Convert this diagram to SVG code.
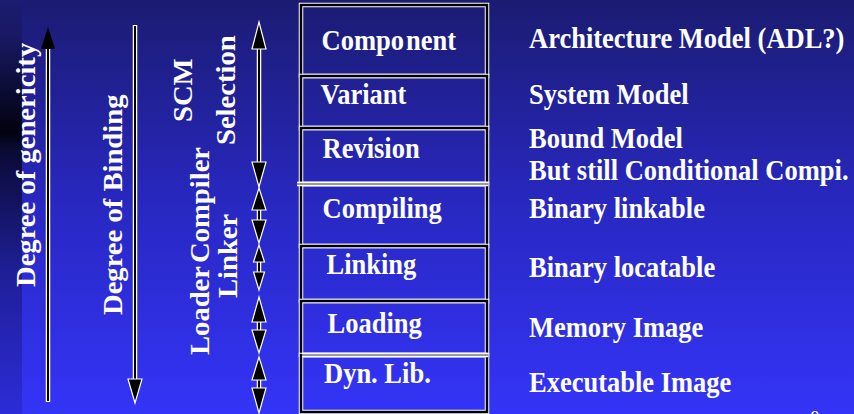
<svg xmlns="http://www.w3.org/2000/svg" width="854" height="414" viewBox="0 0 854 414">
<defs>
<linearGradient id="bg" x1="0" y1="0" x2="0" y2="1">
<stop offset="0" stop-color="#1b1b72"/>
<stop offset="0.5" stop-color="#2828c2"/>
<stop offset="1" stop-color="#3434f8"/>
</linearGradient>
<linearGradient id="strip" x1="0" y1="0" x2="0" y2="1">
<stop offset="0" stop-color="#1c1c70"/>
<stop offset="0.08" stop-color="#191966"/>
<stop offset="0.32" stop-color="#020210"/>
<stop offset="0.36" stop-color="#0a0a34"/>
<stop offset="0.65" stop-color="#1e1e96"/>
<stop offset="1" stop-color="#2c2cd8"/>
</linearGradient>
<style>
.t{font-family:"Liberation Serif","Times New Roman",serif;font-weight:bold;font-size:26.5px;fill:#fff}
.bw{fill:none;stroke:#fff;stroke-width:4.5}
.bk{fill:none;stroke:#000;stroke-width:2.5}
.sw{stroke:#fff;stroke-width:4.5;fill:none}
.sk{stroke:#000;stroke-width:2;fill:none}
.sepw{stroke:#fff;stroke-width:4.5}
.sepg{stroke:#9a9a9a;stroke-width:2}
.head{fill:#000;stroke:#fff;stroke-width:1.2;stroke-linejoin:miter}
.headb{fill:#000}
</style>
</defs>
<rect x="0" y="0" width="854" height="414" fill="url(#bg)"/>
<rect x="0" y="0" width="22" height="414" fill="url(#strip)"/>

<g id="labels">
<text class="t" transform="translate(34.5 287) scale(1 1.08) rotate(-90)">Degree of genericity</text>
<text class="t" transform="translate(121.5 315) scale(1 1.08) rotate(-90)">Degree of Binding</text>
<text class="t" transform="translate(191.5 122) scale(1 1.08) rotate(-90)">SCM</text>
<text class="t" transform="translate(235 145) scale(1 1.08) rotate(-90)">Selection</text>
<text class="t" transform="translate(209 355) scale(1 1.08) rotate(-90)">Loader</text>
<text class="t" transform="translate(209 263) scale(1 1.08) rotate(-90)">Compiler</text>
<text class="t" transform="translate(237 298) scale(1 1.08) rotate(-90)">Linker</text>
</g>

<g id="connectors">
<line class="sw" x1="48" y1="402" x2="48" y2="49"/>
<line class="sk" x1="48" y1="401" x2="48" y2="49"/>
<polygon class="headb" points="48,27 41,49 55,49"/>

<line class="sw" x1="135" y1="25" x2="135" y2="380"/>
<line class="sk" x1="135" y1="26" x2="135" y2="380"/>
<polygon class="head" points="135,403 128,379 142,379"/>

<line class="sw" x1="259" y1="49" x2="259" y2="162"/>
<line class="sk" x1="259" y1="49" x2="259" y2="162"/>
<polygon class="head" points="259,22 252,49 266,49"/>
<polygon class="head" points="259,187 252,162 266,162"/>

<line class="sw" x1="259" y1="210" x2="259" y2="220"/>
<line class="sk" x1="259" y1="210" x2="259" y2="220"/>
<polygon class="head" points="259,188 252,210 266,210"/>
<polygon class="head" points="259,243 252,220 266,220"/>

<line class="sw" x1="259" y1="262" x2="259" y2="272"/>
<line class="sk" x1="259" y1="262" x2="259" y2="272"/>
<polygon class="head" points="259,245 253.5,262 264.5,262"/>
<polygon class="head" points="259,290 253.5,272 264.5,272"/>

<line class="sw" x1="259" y1="322" x2="259" y2="330"/>
<line class="sk" x1="259" y1="322" x2="259" y2="330"/>
<polygon class="head" points="259,297 252,322 266,322"/>
<polygon class="head" points="259,353 252,330 266,330"/>

<line class="sw" x1="259" y1="380" x2="259" y2="388"/>
<line class="sk" x1="259" y1="380" x2="259" y2="388"/>
<polygon class="head" points="259,357 252,380 266,380"/>
<polygon class="head" points="259,413 252,388 266,388"/>
</g>

<g id="node-component">
<rect class="bw" x="301" y="5" width="186" height="71"/>
<rect class="bk" x="301" y="5" width="186" height="71"/>
<text class="t" transform="translate(321.5 50) scale(1 1.08)">Compo<tspan dx="2">nent</tspan></text>
</g>
<g id="node-variant">
<rect class="bw" x="301" y="76" width="186" height="52"/>
<rect class="bk" x="301" y="76" width="186" height="52"/>
<text class="t" transform="translate(320.5 104.3) scale(1 1.08)">Variant</text>
</g>
<g id="node-revision">
<rect class="bw" x="301" y="128" width="186" height="56"/>
<rect class="bk" x="301" y="128" width="186" height="56"/>
<text class="t" transform="translate(322.5 157.7) scale(1 1.08)">Revision</text>
</g>
<g id="node-compiling">
<rect class="bw" x="301" y="184" width="186" height="62"/>
<rect class="bk" x="301" y="184" width="186" height="62"/>
<line class="sepw" x1="297" y1="184" x2="488" y2="184"/>
<line class="sepg" x1="297" y1="184" x2="488" y2="184"/>
<text class="t" transform="translate(322.5 218.3) scale(1 1.08)">Compiling</text>
</g>
<g id="node-linking">
<rect class="bw" x="301" y="246" width="186" height="55"/>
<rect class="bk" x="301" y="246" width="186" height="55"/>
<text class="t" transform="translate(326.5 274) scale(1 1.08)">Linking</text>
</g>
<g id="node-loading">
<rect class="bw" x="301" y="301" width="186" height="54"/>
<rect class="bk" x="301" y="301" width="186" height="54"/>
<text class="t" transform="translate(327.5 332.7) scale(1 1.08)">Loading</text>
</g>
<g id="node-dynlib">
<rect class="bw" x="301" y="355" width="186" height="57"/>
<rect class="bk" x="301" y="355" width="186" height="57"/>
<line class="sepw" x1="302" y1="355" x2="488" y2="355"/>
<line class="sepg" x1="302" y1="355" x2="488" y2="355"/>
<text class="t" transform="translate(324 383.3) scale(1 1.08)">Dyn. Lib.</text>
</g>

<g id="descriptions">
<text class="t" transform="translate(529 48.3) scale(1 1.08)">Architecture Model (ADL?)</text>
<text class="t" transform="translate(529 104) scale(1 1.08)">System Model</text>
<text class="t" transform="translate(529 147.7) scale(1 1.08)">Bound Model</text>
<text class="t" transform="translate(529 180) scale(1 1.08)">But still Conditional Compi.</text>
<text class="t" transform="translate(529 218.3) scale(1 1.08)">Binary linkable</text>
<text class="t" transform="translate(529 277) scale(1 1.08)">Binary locatable</text>
<text class="t" transform="translate(529 336.7) scale(1 1.08)">Memory Image</text>
<text class="t" transform="translate(529 391.7) scale(1 1.08)">Executable Image</text>
<text x="815" y="422" text-anchor="middle" style="font-family:'Liberation Serif',serif;font-size:17px;fill:#fff">9</text>
</g>
</svg>
